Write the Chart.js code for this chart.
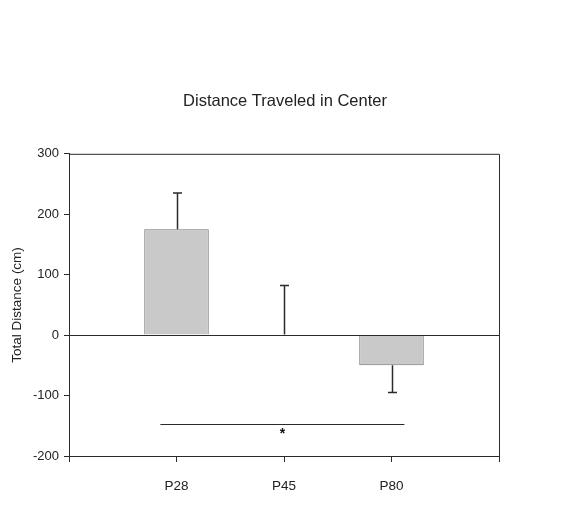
<!DOCTYPE html>
<html>
<head>
<meta charset="utf-8">
<script src="https://cdn.jsdelivr.net/npm/chart.js@4/dist/chart.umd.min.js"></script>
<style>
  html, body { margin: 0; padding: 0; background: #fff; }
  #wrap { width: 580px; height: 520px; }
</style>
</head>
<body>
<div id="wrap"><canvas id="chart" width="580" height="520"></canvas></div>
<script>
// slot labels: empty slots at both ends so the groups sit at 1..3
const groups = ['', 'P28', 'P45', 'P80', ''];
const means = [null, 175, 1, -50, null];
const errors = [null, 60, 81, 45, null];   // one-sided SEM, drawn away from zero
const yTicks = [-200, -100, 0, 100, 200, 300];

// significance bracket, in slot units / data units
const sigFrom = 0.85;
const sigTo = 3.12;
const sigY = -147;
const sigMark = '*';

const ink = '#2b2b2b';
const font = "'Liberation Sans', Arial, sans-serif";

// frame, zero line, error bars and significance line
const extras = {
  id: 'extras',
  afterDatasetsDraw(chart) {
    const { ctx, chartArea: a, scales: { x, y } } = chart;
    ctx.save();
    ctx.strokeStyle = ink;
    ctx.lineWidth = 1;
    // zero line
    const y0 = Math.round(y.getPixelForValue(0)) + 0.5;
    ctx.beginPath();
    ctx.moveTo(a.left, y0);
    ctx.lineTo(a.right, y0);
    ctx.stroke();
    // top + right border
    ctx.beginPath();
    ctx.moveTo(a.left, a.top + 0.5);
    ctx.lineTo(a.right + 0.5, a.top + 0.5);
    ctx.lineTo(a.right + 0.5, a.bottom + 6);
    ctx.stroke();

    // error bars
    ctx.lineWidth = 1.5;
    means.forEach((m, i) => {
      if (m === null) return;
      const cx = Math.round(x.getPixelForValue(i)) + 0.5;
      const end = m >= 0 ? m + errors[i] : m - errors[i];
      const pm = y.getPixelForValue(m);
      const pe = y.getPixelForValue(end);
      ctx.beginPath();
      ctx.moveTo(cx, pm);
      ctx.lineTo(cx, pe);
      ctx.moveTo(cx - 4.5, pe);
      ctx.lineTo(cx + 4.5, pe);
      ctx.stroke();
    });

    // significance bracket
    ctx.lineWidth = 1;
    const sy = Math.round(y.getPixelForValue(sigY)) + 0.5;
    ctx.beginPath();
    ctx.moveTo(x.getPixelForValue(sigFrom), sy);
    ctx.lineTo(x.getPixelForValue(sigTo), sy);
    ctx.stroke();
    ctx.fillStyle = '#111';
    ctx.font = 'bold 14px ' + font;
    ctx.textAlign = 'center';
    ctx.textBaseline = 'top';
    ctx.fillText(sigMark, (x.getPixelForValue(sigFrom) + x.getPixelForValue(sigTo)) / 2, sy + 3);
    ctx.restore();
  }
};

new Chart(document.getElementById('chart'), {
  type: 'bar',
  data: {
    labels: groups,
    datasets: [{
      data: means,
      backgroundColor: '#c9c9c9',
      borderColor: '#707070',
      borderWidth: 1,
      barPercentage: 1,
      categoryPercentage: 0.6
    }]
  },
  options: {
    responsive: false,
    animation: false,
    layout: { padding: { left: 0, right: 10, top: 0, bottom: 0 } },
    plugins: {
      legend: { display: false },
      tooltip: { enabled: false },
      title: {
        display: true,
        text: 'Distance Traveled in Center',
        color: '#222',
        font: { family: font, size: 16.5, weight: 'normal' },
        padding: { top: 92, bottom: 42 }
      }
    },
    scales: {
      x: {
        type: 'category',
        offset: false,
        afterFit: s => { s.height = 64; },
        grid: { offset: false, drawOnChartArea: false, tickLength: 6, color: ink, tickColor: ink },
        border: { display: true, color: ink, width: 1 },
        ticks: { color: '#222', padding: 16, maxRotation: 0, font: { family: font, size: 13.5 } }
      },
      y: {
        min: -200,
        max: 300,
        afterBuildTicks: s => { s.ticks = yTicks.map(v => ({ value: v })); },
        afterFit: s => { s.width = 69; },
        grid: { drawOnChartArea: false, tickLength: 5, color: ink, tickColor: ink },
        border: { display: true, color: ink, width: 1 },
        ticks: { color: '#222', padding: 5, font: { family: font, size: 13 } },
        title: {
          display: true,
          text: 'Total Distance (cm)',
          color: '#222',
          font: { family: font, size: 13.5 },
          padding: { top: 9, bottom: 0 }
        }
      },
      // spacer on the right so the plot ends where the reference does
      y2: {
        position: 'right',
        display: true,
        afterFit: s => { s.width = 71; },
        grid: { display: false },
        border: { display: false },
        ticks: { display: false }
      }
    }
  },
  plugins: [extras]
});
</script>
</body>
</html>
